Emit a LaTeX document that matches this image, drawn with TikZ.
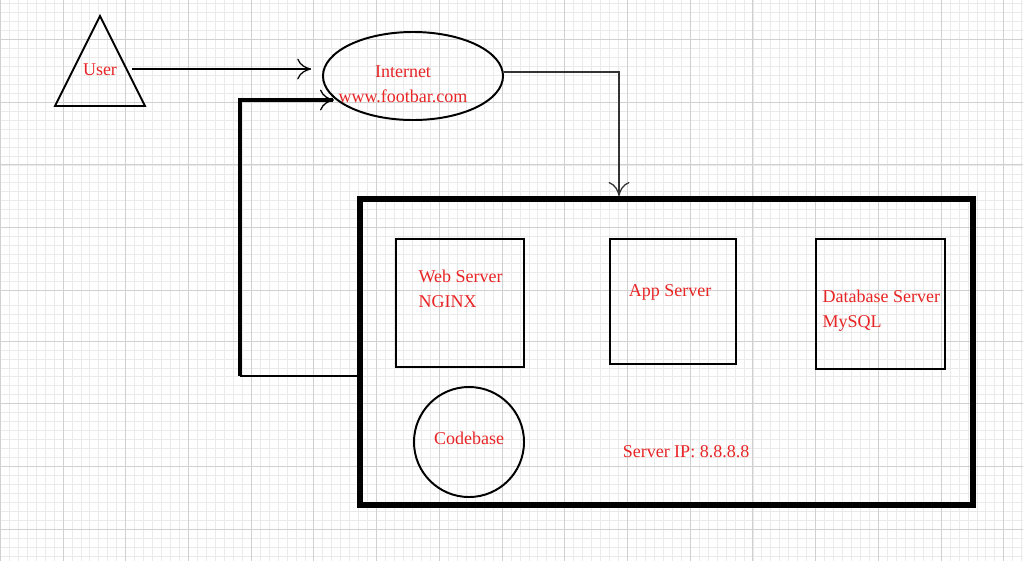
\documentclass[tikz,border=0pt]{standalone}
\usepackage{fontspec}
\setmainfont{Liberation Serif}
\usetikzlibrary{shapes.geometric, arrows.meta}
\definecolor{lblred}{RGB}{232,36,36}
\definecolor{gridmin}{RGB}{234,234,234}
\definecolor{gridmaj}{RGB}{208,208,208}
\tikzset{srvbox/.style={draw,line width=1.8pt,inner sep=0pt},
         lbl/.style={text=lblred,font=\fontsize{12.8}{17.7}\selectfont,inner sep=1pt},
         flow/.style={-{Computer Modern Rightarrow[length=3.5mm,width=5.2mm,line width=0.9pt]}},
         gmin/.style={draw=gridmin,line width=0.6pt},
         gmaj/.style={draw=gridmaj,line width=0.7pt}}

\begin{document}
\begin{tikzpicture}[x=0.025cm,y=-0.025cm]
        \fill[white](0,0)rectangle(1023,561);
        \useasboundingbox(0,0)rectangle(1023,561);
        % grid paper
        \foreach \k in {0,...,114}{\draw[gmin]({0.3+8.96*\k},0)--({0.3+8.96*\k},561);}
        \foreach \k in {0,...,32}{\draw[gmin](0,{3.7+8.96*\k})--(1023,{3.7+8.96*\k});}
        \foreach \k in {0,...,28}{\draw[gmin](0,{305.2+8.96*\k})--(1023,{305.2+8.96*\k});}
        \foreach \k in {0,7,...,112}{\draw[gmaj]({0.3+8.96*\k},0)--({0.3+8.96*\k},561);}
        \foreach \k in {4,11,18,25,32}{\draw[gmaj](0,{3.7+8.96*\k})--(1023,{3.7+8.96*\k});}
        \foreach \k in {4,11,18,25}{\draw[gmaj](0,{305.2+8.96*\k})--(1023,{305.2+8.96*\k});}

        % user and internet
        \draw[line width=1.4pt,line join=miter](100,16)--(145,106)--(55,106)--cycle;
        \node[lbl](user)at(100,70){User};
        \node[draw,ellipse,line width=1.4pt,minimum width=4.5cm,minimum height=2.2cm](internet)at(413,76){};
        \node[lbl,align=center](nettext)at(403,84){Internet\\www.footbar.com};

        % server
        \node[srvbox,line width=4.3pt,minimum width=15.325cm,minimum height=7.65cm](server)at(666.5,352){};
        \node[srvbox,minimum width=3.2cm,minimum height=3.2cm](web)at(460,303){};
        \node[lbl,align=left,anchor=west](webtext)at(417,289){Web Server\\NGINX};
        \node[srvbox,minimum width=3.15cm,minimum height=3.125cm](app)at(673,301.5){};
        \node[lbl](apptext)at(670,292){App Server};
        \node[srvbox,minimum width=3.225cm,minimum height=3.25cm](db)at(880.5,304){};
        \node[lbl,align=left,anchor=west](dbtext)at(821,310.5){Database Server\\MySQL};
        \node[draw,circle,line width=1.4pt,minimum size=2.75cm](code)at(469,442){};
        \node[lbl](codetext)at(469,438){Codebase};
        \node[lbl](ip)at(686,452){Server IP: 8.8.8.8};

        % connectors
        \coordinate(u-out)at(132,69);
        \coordinate(loop)at(240,376);
        \coordinate(i-back)at(334,100);
        \coordinate(s-in)at(619,196);
        \draw[flow,line width=1.4pt,shorten >=0.27cm](u-out)--(u-out-|internet.west);
        \draw[line width=1pt](server.west|-loop)--(loop);
        \draw[flow,line width=2.4pt,line join=miter](loop)|-(i-back);
        \draw[flow,line width=0.9pt,draw=black!80]([yshift=0.1cm]internet.east)-|(s-in);
    \end{tikzpicture}
\end{document}
